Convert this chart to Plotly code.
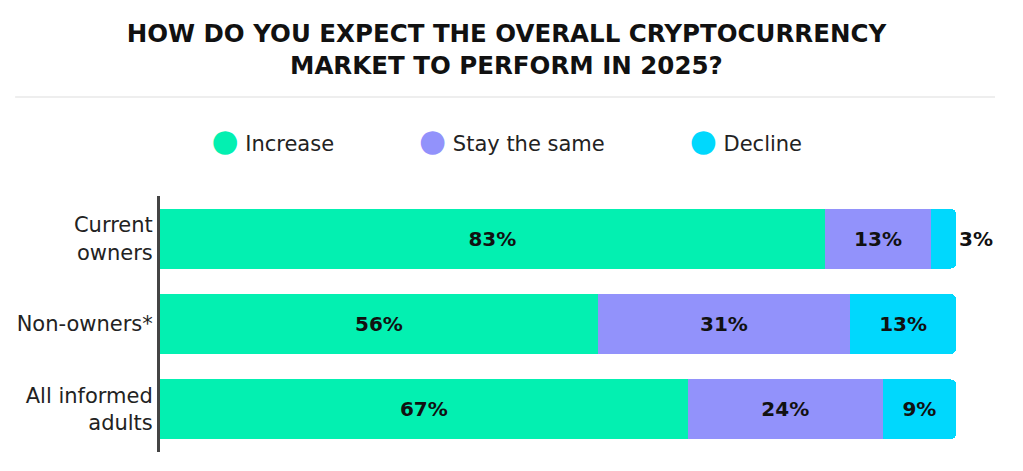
import plotly.graph_objects as go

# rows, top to bottom
groups = ["Current<br>owners", "Non-owners*", "All informed<br>adults"]

# share of each answer
increase = [83.5, 55.0, 66.3]
stay_same = [13.4, 31.7, 24.5]
decline = [3.1, 13.3, 9.2]

# printed labels
increase_lbl = ["83%", "56%", "67%"]
stay_lbl = ["13%", "31%", "24%"]
decline_lbl = ["3%", "13%", "9%"]

series = [
    ("Increase", increase, increase_lbl, "#03F0B1"),
    ("Stay the same", stay_same, stay_lbl, "#9292FB"),
    ("Decline", decline, decline_lbl, "#00D8FD"),
]

FONT = "DejaVu Sans"
label_font = dict(family=FONT, size=20, color="#111111", weight="bold")

fig = go.Figure()

for name, vals, lbls, col in series:
    pos = "inside"
    if name == "Decline":
        pos = ["outside", "inside", "inside"]
    fig.add_trace(go.Bar(
        y=groups, x=vals, orientation="h", name=name,
        marker=dict(color=col, line=dict(width=0)),
        text=lbls, textposition=pos, insidetextanchor="middle",
        textfont=label_font, outsidetextfont=label_font,
        constraintext="none", cliponaxis=False,
        showlegend=False, hoverinfo="skip",
    ))
    # legend entry: big coloured dot written into the text
    dot = '<span style="font-size:31px;color:%s">●</span>' % col
    fig.add_trace(go.Scatter(
        x=[None], y=[None], mode="markers",
        name=dot + " " + name + "\u00a0" * 6,
        marker=dict(size=1, color="rgba(0,0,0,0)"),
    ))

fig.update_layout(
    width=1023, height=471,
    barmode="stack", bargap=0.3, barcornerradius=5,
    paper_bgcolor="white", plot_bgcolor="white",
    margin=dict(l=160, r=67, t=196, b=19),
    font=dict(family=FONT, color="#222222"),
    title=dict(
        text="HOW DO YOU EXPECT THE OVERALL CRYPTOCURRENCY<br>MARKET TO PERFORM IN 2025?",
        x=0.495, xanchor="center", y=0.91, yanchor="middle",
        font=dict(family=FONT, size=24.5, color="#111111", weight="bold"),
    ),
    legend=dict(
        orientation="h", traceorder="normal", itemwidth=30,
        x=0.439, xanchor="center", y=1.207, yanchor="middle",
        font=dict(family=FONT, size=21, color="#222222"),
        bgcolor="rgba(0,0,0,0)",
    ),
    xaxis=dict(range=[0, 100], visible=False, fixedrange=True),
    yaxis=dict(
        autorange="reversed", showline=True, linecolor="#444444", linewidth=3,
        showgrid=False, ticks="", ticklabelstandoff=0, automargin=False,
        tickfont=dict(family=FONT, size=21, color="#222222"),
    ),
    shapes=[dict(
        type="line", xref="paper", yref="paper",
        x0=-0.182, x1=1.049, y0=1.387, y1=1.387,
        line=dict(color="#EEEEEE", width=2),
    )],
)

# page body has an 8px default margin; drop it so the figure sits at 0,0
fig.write_html("out.html", config={"displayModeBar": False},
               post_script="document.body.style.margin='0';")
